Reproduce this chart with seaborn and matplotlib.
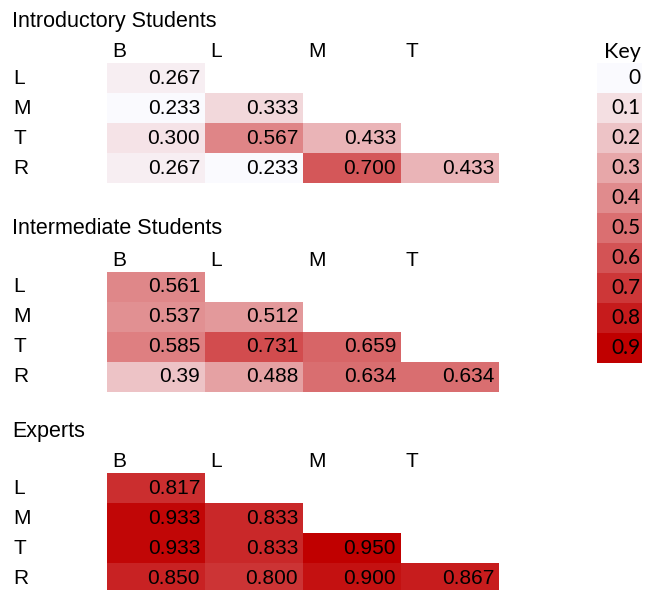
import numpy as np
import matplotlib
matplotlib.use("Agg")
import matplotlib.pyplot as plt
import seaborn as sns
from matplotlib.colors import LinearSegmentedColormap

sns.set_theme(style="white")
plt.rcParams['font.family'] = ['Liberation Sans', 'DejaVu Sans']
plt.rcParams['text.color'] = 'black'
plt.rcParams['xtick.color'] = 'black'
plt.rcParams['ytick.color'] = 'black'

row_labels = ["L", "M", "T", "R"]
col_labels = ["B", "L", "M", "T"]

intro_values = [[0.267],
                [0.233, 0.333],
                [0.300, 0.567, 0.433],
                [0.267, 0.233, 0.700, 0.433]]
inter_values = [[0.561],
                [0.537, 0.512],
                [0.585, 0.731, 0.659],
                [0.39, 0.488, 0.634, 0.634]]
expert_values = [[0.817],
                 [0.933, 0.833],
                 [0.933, 0.833, 0.950],
                 [0.850, 0.800, 0.900, 0.867]]

groups = [("Introductory Students", intro_values, "{:.3f}"),
          ("Intermediate Students", inter_values, "{:g}"),
          ("Experts", expert_values, "{:.3f}")]

key_values = [0, 0.1, 0.2, 0.3, 0.4, 0.5, 0.6, 0.7, 0.8, 0.9]
key_labels = ["0", "0.1", "0.2", "0.3", "0.4", "0.5", "0.6", "0.7", "0.8", "0.9"]

cmap = LinearSegmentedColormap.from_list("wr", ["#FAFAFE", "#C00000"])

W, H = 647, 590
fig = plt.figure(figsize=(W / 100, H / 100), dpi=100)
fig.patch.set_facecolor("white")


def px_axes(left, top, width, height):
    return fig.add_axes([left / W, 1 - (top + height) / H, width / W, height / H])


tops = [63, 272, 473]
title_y = [21, 229, 432]

for (title, vals, fmt), top, ty in zip(groups, tops, title_y):
    n = len(row_labels)
    data = np.full((n, n), np.nan)
    annot = np.full((n, n), "", dtype=object)
    for i, row in enumerate(vals):
        for j, v in enumerate(row):
            data[i, j] = v
            annot[i, j] = fmt.format(v)
    mask = np.isnan(data)
    ax = px_axes(107, top, 392, 120)
    sns.heatmap(data, mask=mask, cmap=cmap, vmin=0.233, vmax=0.95, cbar=False,
                annot=annot, fmt="", ax=ax,
                annot_kws={"color": "black", "fontsize": 15, "ha": "right"})
    for t in ax.texts:
        x, y = t.get_position()
        t.set_position((x + 0.5 - 0.05, y))
    ax.xaxis.tick_top()
    ax.set_xticks(np.arange(n) + 0.05)
    ax.set_xticklabels(col_labels, ha="left", va="center", fontsize=15, color="black")
    ax.set_yticks(np.arange(n) + 0.5)
    ax.set_yticklabels(row_labels, ha="left", va="center", rotation=0, fontsize=15,
                       color="black")
    ax.tick_params(axis="x", length=0, pad=8)
    ax.tick_params(axis="y", length=0, pad=67.5)
    for s in ax.spines.values():
        s.set_visible(False)
    fig.text(12 / W, 1 - ty / H, title, ha="left", va="center", fontsize=15.5,
             color="black")

# Key
kax = px_axes(597, 63, 45, 300)
kdata = np.array(key_values).reshape(-1, 1)
kannot = np.array(key_labels, dtype=object).reshape(-1, 1)
sns.heatmap(kdata, cmap=cmap, vmin=0, vmax=0.9, cbar=False, annot=kannot, fmt="",
            ax=kax, annot_kws={"color": "black", "fontsize": 15, "ha": "right",
                               "family": ["Lato", "DejaVu Sans"]})
for t in kax.texts:
    x, y = t.get_position()
    t.set_position((x + 0.5 - 0.04, y))
kax.set_xticks([])
kax.set_yticks([])
for s in kax.spines.values():
    s.set_visible(False)
fig.text(641 / W, 1 - 52 / H, "Key", ha="right", va="center", fontsize=15.5,
         family=["Lato", "DejaVu Sans"], color="black")

fig.savefig("out.png", dpi=100, facecolor="white")
